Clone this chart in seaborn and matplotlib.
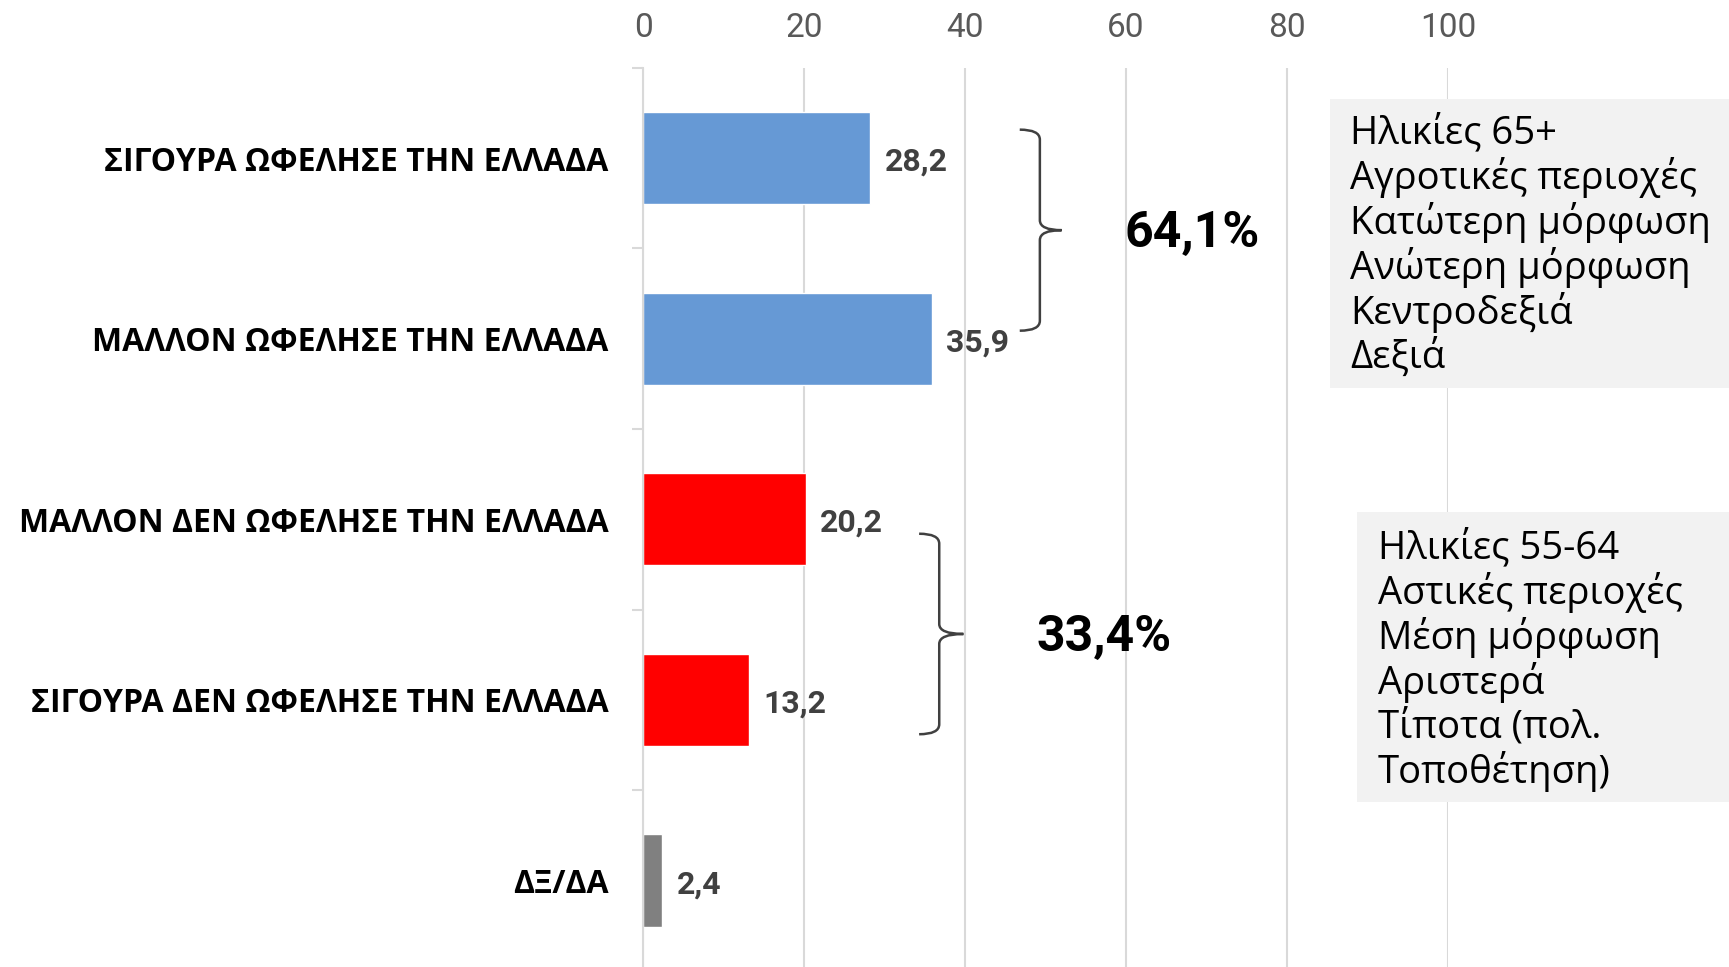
import numpy as np
import pandas as pd
import matplotlib.pyplot as plt
from matplotlib.path import Path
from matplotlib.patches import PathPatch, Rectangle
import seaborn as sns

categories = ["ΣΙΓΟΥΡΑ ΩΦΕΛΗΣΕ ΤΗΝ ΕΛΛΑΔΑ", "ΜΑΛΛΟΝ ΩΦΕΛΗΣΕ ΤΗΝ ΕΛΛΑΔΑ",
              "ΜΑΛΛΟΝ ΔΕΝ ΩΦΕΛΗΣΕ ΤΗΝ ΕΛΛΑΔΑ", "ΣΙΓΟΥΡΑ ΔΕΝ ΩΦΕΛΗΣΕ ΤΗΝ ΕΛΛΑΔΑ",
              "ΔΞ/ΔΑ"]
values = [28.2, 35.9, 20.2, 13.2, 2.4]
bar_colors = ["#6699D5", "#6699D5", "#FF0000", "#FF0000", "#808080"]
xticks = [0, 20, 40, 60, 80, 100]
group_totals = [64.1, 33.4]
box1_lines = ["Ηλικίες 65+", "Αγροτικές περιοχές", "Κατώτερη μόρφωση",
              "Ανώτερη μόρφωση", "Κεντροδεξιά", "Δεξιά"]
box2_lines = ["Ηλικίες 55-64", "Αστικές περιοχές", "Μέση μόρφωση",
              "Αριστερά", "Τίποτα (πολ.", "Τοποθέτηση)"]

sns.set_theme(style="white")
plt.rcParams['font.family'] = ['Open Sans', 'DejaVu Sans']

W, H = 1729, 967
fig = plt.figure(figsize=(W / 100, H / 100), dpi=100)
ax = fig.add_axes([643 / W, -0.004, 805 / W, 0.934])

df = pd.DataFrame({"cat": categories, "val": values})
sns.barplot(data=df, y="cat", x="val", hue="cat", palette=bar_colors,
            legend=False, width=0.51, orient="h", saturation=1, ax=ax)

def fmt(v):
    return f"{v:.1f}".replace(".", ",")

narrow = ['Roboto', 'DejaVu Sans']
for i, v in enumerate(values):
    ax.text(v + 1.8, i + 0.02, fmt(v), va="center", ha="left", fontsize=23,
            fontweight="bold", color="#404040", family=narrow)

ax.set_xlim(0, 100)
ax.set_ylim(4.5, -0.5)
ax.set_xticks(xticks)
ax.xaxis.tick_top()
ax.tick_params(axis="x", length=0, pad=17, labelsize=24, labelcolor="#595959")
for lab in ax.get_xticklabels():
    lab.set_family(narrow)
ax.set_xlabel("")
ax.set_ylabel("")
ax.tick_params(axis="y", which="major", length=0, pad=25, labelsize=23)
for lab in ax.get_yticklabels():
    lab.set_fontweight("bold")
    lab.set_color("black")
ax.set_yticks(np.arange(-0.5, len(categories)), minor=True)
ax.tick_params(axis="y", which="minor", length=8, width=1.5, color="#d9d9d9", left=True)
ax.grid(axis="x", color="#d9d9d9", linewidth=1.5)
ax.grid(axis="y", visible=False)
for s in ["top", "right", "bottom"]:
    ax.spines[s].set_visible(False)
ax.spines["left"].set_color("#d9d9d9")
ax.spines["left"].set_linewidth(1.5)
ax.set_axisbelow(True)

def brace(xh, xv, xt, yt, yb, ry=0.055):
    ym = (yt + yb) / 2
    verts = [(xh, yt), (xv, yt), (xv, yt + ry), (xv, ym - ry), (xv, ym), (xt, ym),
             (xv, ym), (xv, ym + ry), (xv, yb - ry), (xv, yb), (xh, yb)]
    codes = [Path.MOVETO, Path.CURVE3, Path.CURVE3, Path.LINETO, Path.CURVE3, Path.CURVE3,
             Path.CURVE3, Path.CURVE3, Path.LINETO, Path.CURVE3, Path.CURVE3]
    ax.add_patch(PathPatch(Path(verts, codes), facecolor="none", edgecolor="#404040",
                           linewidth=1.8, clip_on=False))
    return ym

m1 = brace(46.8, 49.3, 52.0, -0.157, 0.956)
m2 = brace(34.3, 36.8, 39.8, 2.08, 3.19)
ax.text(68.2, m1 + 0.02, fmt(group_totals[0]) + "%", va="center", ha="center", fontsize=36,
        fontweight="bold", color="black", family=narrow, clip_on=False)
ax.text(57.3, m2 + 0.02, fmt(group_totals[1]) + "%", va="center", ha="center", fontsize=36,
        fontweight="bold", color="black", family=narrow, clip_on=False)

# grey side boxes
fig.patches.append(Rectangle((1330 / W, 1 - 388 / H), (W - 1330) / W, 289 / H,
                             transform=fig.transFigure, facecolor="#f2f2f2", edgecolor="none"))
fig.patches.append(Rectangle((1357 / W, 1 - 802 / H), (W - 1357) / W, 290 / H,
                             transform=fig.transFigure, facecolor="#f2f2f2", edgecolor="none"))
for k, line in enumerate(box1_lines):
    fig.text(1350 / W, 1 - (133 + 44.8 * k) / H, line, va="center", ha="left",
             fontsize=27.5, color="black")
for k, line in enumerate(box2_lines):
    fig.text(1378 / W, 1 - (548 + 44.8 * k) / H, line, va="center", ha="left",
             fontsize=27.5, color="black")

fig.savefig("out.png", dpi=100)
